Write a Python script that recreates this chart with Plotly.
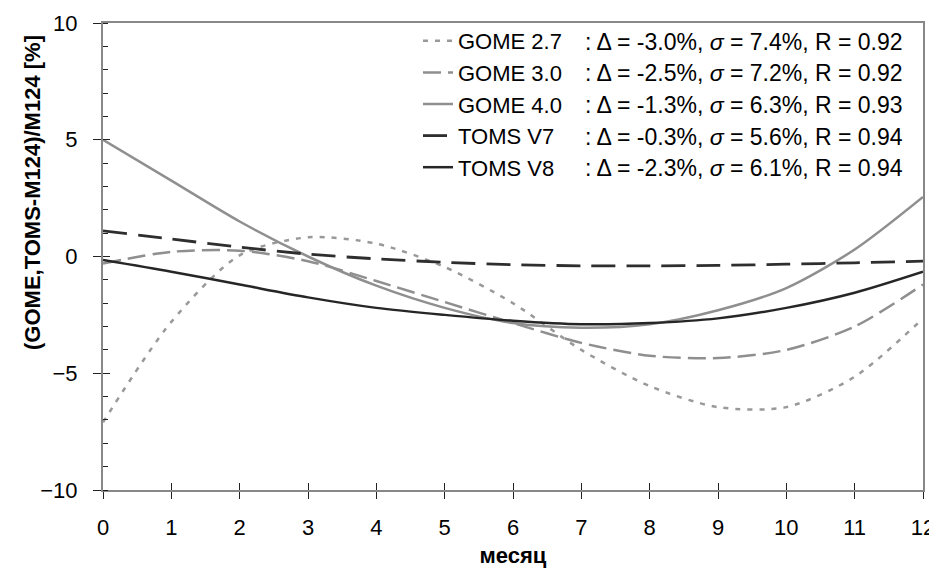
import plotly.graph_objects as go

months = [0, 1, 2, 3, 4, 5, 6, 7, 8, 9, 10, 11, 12]
series_names = ["GOME 2.7", "GOME 3.0", "GOME 4.0", "TOMS V7", "TOMS V8"]
gome27 = [-7.1, -2.8, 0.05, 0.82, 0.55, -0.45, -2.0, -4.0, -5.55, -6.45, -6.45, -5.15, -2.65]
gome30 = [-0.3, 0.2, 0.25, -0.2, -1.05, -1.95, -2.85, -3.7, -4.25, -4.35, -4.0, -3.0, -1.2]
gome40 = [5.0, 3.25, 1.5, 0.0, -1.25, -2.2, -2.85, -3.05, -2.9, -2.3, -1.35, 0.3, 2.55]
tomsv7 = [1.1, 0.75, 0.4, 0.1, -0.1, -0.25, -0.35, -0.4, -0.4, -0.38, -0.33, -0.27, -0.2]
tomsv8 = [-0.15, -0.65, -1.2, -1.75, -2.2, -2.5, -2.75, -2.9, -2.85, -2.65, -2.2, -1.55, -0.65]
stats = [
    ": Δ = -3.0%, <i>σ</i> = 7.4%, R = 0.92",
    ": Δ = -2.5%, <i>σ</i> = 7.2%, R = 0.92",
    ": Δ = -1.3%, <i>σ</i> = 6.3%, R = 0.93",
    ": Δ = -0.3%, <i>σ</i> = 5.6%, R = 0.94",
    ": Δ = -2.3%, <i>σ</i> = 6.1%, R = 0.94",
]
x_ticks = list(range(0, 13))
y_ticks = [-10, -5, 0, 5, 10]

values = [gome27, gome30, gome40, tomsv7, tomsv8]
styles = [
    dict(color="#999999", width=2.5, dash="5px,7px"),
    dict(color="#8f8f8f", width=2.5, dash="18px,7px"),
    dict(color="#8f8f8f", width=2.5, dash="solid"),
    dict(color="#2e2e2e", width=2.8, dash="24px,11px"),
    dict(color="#262626", width=2.5, dash="solid"),
]

FONT = "Liberation Sans, Arial, sans-serif"
FS = 22
fig = go.Figure()
for i, (name, vals, st) in enumerate(zip(series_names, values, styles)):
    fig.add_trace(go.Scatter(
        x=months, y=vals, mode="lines", name=name, line=dict(shape="spline", smoothing=0.8, **st),
        hoverinfo="skip"))

# helper trace for inside ticks (crossing tick effect)
fig.add_trace(go.Scatter(x=[None], y=[None], xaxis="x2", yaxis="y2", showlegend=False, hoverinfo="skip"))

# page body has an 8px margin: build the figure 8px smaller so the plot sits where the reference has it
OFF = 8
W, H = 937 - OFF, 570 - OFF
PX0, PX1, PY0, PY1 = 103, 923, 23, 490   # plot area in window pixels
L, R, T, B = PX0 - OFF, 937 - PX1, PY0 - OFF, 570 - PY1
pw = PX1 - PX0
ph = PY1 - PY0

def px_to_paper_y(py):
    return (PY1 - py) / ph

def px_to_paper_x(px):
    return (px - PX0) / pw

row_h = FS * 1.3 + 3
row_y = [105 + (k - 2) * row_h for k in range(5)]
for s, ry in zip(stats, row_y):
    fig.add_annotation(text=s, xref="paper", yref="paper", x=px_to_paper_x(583), y=px_to_paper_y(ry),
                       xanchor="left", yanchor="middle", showarrow=False,
                       font=dict(family=FONT, size=23, color="#000"))

fig.add_annotation(text="<b>(GOME,TOMS-M124)/M124 [%]</b>", xref="paper", yref="paper",
                   x=px_to_paper_x(32), y=px_to_paper_y(193), textangle=-90,
                   xanchor="center", yanchor="middle", showarrow=False,
                   font=dict(family=FONT, size=FS, color="#000"))

fig.update_layout(
    width=W, height=H,
    margin=dict(l=L, r=R, t=T, b=B, autoexpand=False),
    paper_bgcolor="white", plot_bgcolor="white",
    font=dict(family=FONT, size=FS, color="#000"),
    showlegend=True,
    legend=dict(x=px_to_paper_x(418), y=px_to_paper_y(20), xanchor="left", yanchor="top",
                bgcolor="rgba(0,0,0,0)", borderwidth=0,
                font=dict(family=FONT, size=FS, color="#000")),
    xaxis=dict(range=[0, 12], tickvals=x_ticks, ticks="outside", ticklen=7, tickwidth=1, tickcolor="#222",
               showline=True, linecolor="#888", linewidth=2, mirror=True, showgrid=False, zeroline=False,
               ticklabelstandoff=10, automargin=False,
               title=dict(text="<b>месяц</b>", font=dict(family=FONT, size=FS), standoff=8)),
    yaxis=dict(range=[-10, 10], tickvals=y_ticks, ticks="outside", ticklen=8, tickwidth=1, tickcolor="#222",
               minor=dict(ticks="inside", dtick=1, ticklen=5, tickcolor="#222", tickwidth=1),
               showline=True, linecolor="#888", linewidth=2, mirror=True, showgrid=False, zeroline=False,
               ticklabelstandoff=11, automargin=False),
    xaxis2=dict(range=[0, 12], overlaying="x", anchor="y2", tickvals=x_ticks, ticks="inside", ticklen=7,
                tickwidth=1, tickcolor="#222", showticklabels=False, showline=False, showgrid=False, zeroline=False),
    yaxis2=dict(range=[-10, 10], overlaying="y", anchor="x2", tickvals=y_ticks, ticks="inside", ticklen=7,
                tickwidth=1, tickcolor="#222", showticklabels=False, showline=False, showgrid=False, zeroline=False),
)

fig.write_html("out.html")
